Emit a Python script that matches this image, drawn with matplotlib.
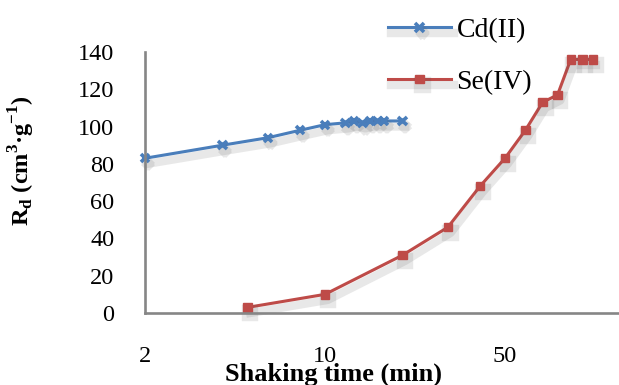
import numpy as np
import matplotlib
matplotlib.use("Agg")
import matplotlib.pyplot as plt
import matplotlib.patheffects as pe
from matplotlib.ticker import FixedLocator, FixedFormatter, NullLocator

plt.rcParams["font.family"] = ["Liberation Serif", "DejaVu Serif"]
plt.rcParams["mathtext.fontset"] = "custom"
plt.rcParams["mathtext.rm"] = "Liberation Serif:bold"
plt.rcParams["mathtext.bf"] = "Liberation Serif:bold"

# shaking time (min) and distribution ratio Rd (cm3/g)
cd_time = [2, 4, 6, 8, 10, 12, 13, 14, 15, 16, 17, 20]
cd_rd = [83, 90, 94, 98, 101, 102, 103, 102, 103, 103, 103, 103]

se_time = [5, 10, 20, 30, 40, 50, 60, 70, 80, 90, 100, 110]
se_rd = [3, 10, 31, 46, 68, 83, 98, 113, 117, 136, 136, 136]

xticks = [2, 10, 50]
yticks = [0, 20, 40, 60, 80, 100, 120, 140]

blue = "#4a7ebb"
red = "#be4b48"

fig = plt.figure(figsize=(6.19, 3.85), dpi=100)
ax = fig.add_axes([0.2342, 0.187, 0.7658, 0.678])

shadow = [pe.SimpleLineShadow(offset=(2, -4), shadow_color="#505050", alpha=0.13, linewidth=6),
          pe.Normal()]

ax.plot(cd_time, cd_rd, color=blue, lw=2.2, marker="x", ms=6, mew=2.6,
        mec=blue, label="Cd(II)", path_effects=shadow, clip_on=False)
ax.plot(se_time, se_rd, color=red, lw=2.2, marker="s", ms=6, mec=red, mfc=red,
        label="Se(IV)", path_effects=shadow, clip_on=False)

ax.set_xscale("log")
ax.set_xlim(2, 138.6)
ax.set_ylim(0, 140)
ax.xaxis.set_major_locator(FixedLocator(xticks))
ax.xaxis.set_major_formatter(FixedFormatter([str(t) for t in xticks]))
ax.xaxis.set_minor_locator(NullLocator())
ax.set_yticks(yticks)

for side in ["top", "right"]:
    ax.spines[side].set_visible(False)
for side in ["left", "bottom"]:
    ax.spines[side].set_color("#868686")
    ax.spines[side].set_linewidth(1.9)

ax.tick_params(axis="both", length=0, labelsize=17.5)
ax.tick_params(axis="y", pad=22)
ax.tick_params(axis="x", pad=24)

ax.set_xlabel("Shaking time (min)", fontsize=19, fontweight="bold", labelpad=0)
ax.xaxis.set_label_coords(0.397, -0.19)
ax.set_ylabel("R$_\\mathrm{d}$ (cm$^{\\mathrm{3}}$·g$^{\\mathrm{-1}}$)", fontsize=17.5,
              fontweight="bold")
ax.yaxis.set_label_coords(-0.228, 0.585)

leg = ax.legend(loc="upper left", bbox_to_anchor=(0.605, 0.99),
                bbox_transform=fig.transFigure, frameon=False, fontsize=20,
                borderpad=0, labelspacing=0.95, handlelength=2.25,
                handletextpad=0.2)

fig.savefig("out.png", dpi=100)
